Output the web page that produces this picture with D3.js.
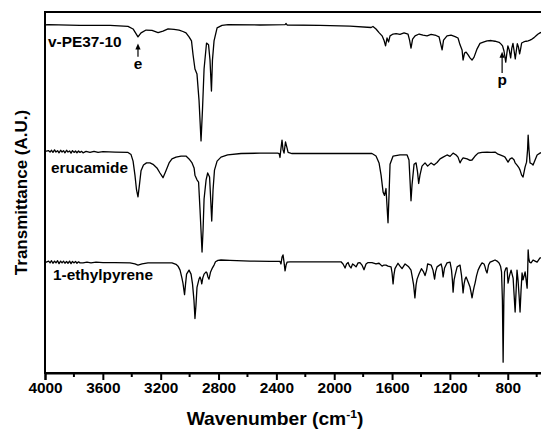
<!DOCTYPE html>
<html>
<head>
<meta charset="utf-8">
<script src="https://cdn.jsdelivr.net/npm/d3@7"></script>
<style>
  body { margin: 0; background: #fff; }
  text { font-family: "Liberation Sans", Arial, sans-serif; font-weight: bold; fill: #000; }
</style>
</head>
<body>
<svg id="myChart" width="541" height="430"></svg>
<script>
// Spectra: [wavenumber (cm-1), transmittance (A.U., offset)]
const vpeData = [
  [4000, 96.4], [3979, 96.5], [3758, 96.3], [3550, 96.3], [3426, 96.0], [3391, 95.3], [3357, 93.1],
  [3336, 94.2], [3301, 95.0], [3260, 94.9], [3218, 94.3], [3184, 94.7], [3149, 95.3], [3108, 95.2],
  [3073, 95.0], [3046, 94.6], [3025, 94.2], [3004, 93.1], [2987, 92.0], [2976, 88.1], [2963, 84.2],
  [2949, 82.8], [2935, 75.6], [2921, 64.3], [2911, 72.9], [2900, 84.2], [2883, 91.4], [2869, 90.9],
  [2859, 86.7], [2849, 78.1], [2842, 86.7], [2831, 92.0], [2810, 95.6], [2776, 96.3], [2734, 96.5],
  [2513, 96.4], [2340, 96.5], [2333, 96.8], [2326, 96.4], [2098, 96.3], [1891, 96.1], [1745, 95.7],
  [1732, 96.0], [1711, 95.3], [1690, 94.3], [1669, 93.4], [1656, 92.2], [1645, 90.6], [1635, 92.8],
  [1624, 91.7], [1614, 93.4], [1593, 93.9], [1572, 94.0], [1545, 93.8], [1517, 94.2], [1490, 93.9],
  [1479, 92.2], [1469, 90.0], [1458, 92.5], [1441, 93.4], [1413, 93.9], [1386, 93.6], [1358, 93.4],
  [1330, 93.8], [1296, 93.5], [1275, 93.1], [1265, 91.4], [1254, 89.5], [1244, 92.2], [1220, 93.4],
  [1192, 93.6], [1164, 93.2], [1144, 92.8], [1130, 90.9], [1116, 89.5], [1109, 86.7], [1099, 88.6],
  [1088, 88.9], [1074, 88.1], [1061, 87.3], [1047, 86.7], [1033, 87.5], [1012, 89.8], [992, 91.3],
  [964, 91.7], [943, 92.0], [915, 92.1], [888, 91.9], [860, 91.6], [846, 91.1], [836, 90.6],
  [826, 89.2], [814, 86.1], [806, 88.6], [799, 90.6], [790, 89.5], [780, 87.3], [772, 90.0],
  [764, 91.3], [756, 89.2], [748, 87.0], [741, 89.2], [734, 91.2], [726, 90.3], [718, 88.4],
  [711, 89.8], [704, 91.4], [690, 91.7], [673, 91.9], [659, 92.0], [646, 92.2], [632, 92.5],
  [618, 92.9], [604, 93.4], [590, 93.9], [577, 94.2], [563, 94.5]
];

const erucamideData = [
  [4000, 61.4], [3975, 61.6], [3965, 61.2], [3955, 61.7], [3945, 61.1], [3934, 61.8], [3924, 61.2],
  [3913, 61.6], [3903, 61.0], [3892, 61.7], [3882, 61.2], [3872, 61.6], [3862, 61.0], [3851, 61.7],
  [3841, 61.2], [3830, 61.5], [3820, 60.9], [3810, 61.6], [3799, 61.1], [3789, 61.5], [3779, 61.0],
  [3768, 61.5], [3758, 61.1], [3748, 61.4], [3737, 61.0], [3716, 61.4], [3689, 61.1], [3661, 61.4],
  [3633, 61.1], [3599, 61.3], [3516, 61.2], [3426, 61.1], [3405, 60.5],
  [3391, 58.7], [3378, 54.8], [3367, 50.7], [3357, 48.8], [3347, 52.1], [3336, 56.0], [3319, 57.6],
  [3298, 58.2], [3274, 58.2], [3253, 57.8], [3226, 56.8], [3205, 55.4], [3184, 54.1], [3167, 55.7],
  [3142, 58.2], [3122, 59.3], [3094, 59.8], [3059, 60.1], [3025, 60.1], [3004, 59.3], [2983, 58.2],
  [2969, 56.8], [2963, 54.8], [2949, 53.5], [2938, 52.9], [2928, 45.2], [2914, 33.5], [2907, 39.6],
  [2900, 48.2], [2886, 53.5], [2875, 55.4], [2862, 54.3], [2854, 47.9], [2847, 42.1], [2838, 50.7],
  [2828, 56.2], [2810, 58.7], [2783, 59.8], [2737, 60.4], [2644, 60.8], [2513, 60.9], [2391, 60.9],
  [2381, 60.8], [2375, 59.7], [2368, 62.3], [2361, 64.5], [2354, 61.8], [2347, 60.9], [2337, 64.0],
  [2326, 62.3], [2319, 61.1], [2292, 60.8], [2029, 60.8], [1739, 60.8], [1711, 60.1], [1690, 58.2],
  [1676, 54.8], [1662, 50.1], [1652, 49.2], [1642, 51.1], [1628, 41.6], [1621, 49.3], [1614, 57.8],
  [1593, 60.1], [1545, 60.4], [1496, 60.4], [1483, 59.0], [1476, 53.5], [1469, 47.7], [1462, 52.1],
  [1448, 57.8], [1434, 58.2], [1424, 55.7], [1416, 52.5], [1407, 54.8], [1393, 57.3], [1372, 58.2],
  [1354, 57.3], [1330, 58.2], [1310, 57.6], [1289, 58.3], [1268, 59.3], [1247, 59.8], [1220, 60.4],
  [1199, 60.0], [1178, 60.9], [1157, 60.4], [1144, 59.8], [1130, 58.2], [1120, 59.0], [1109, 59.6],
  [1081, 59.3], [1061, 58.9], [1047, 59.0], [1026, 60.1], [1005, 60.9], [978, 61.1], [943, 61.2],
  [915, 61.1], [888, 61.2], [867, 60.6], [853, 60.4], [832, 60.1], [819, 59.8], [798, 58.4],
  [784, 59.3], [770, 59.6], [756, 59.0], [749, 58.2], [736, 57.6], [722, 56.8], [715, 56.2],
  [704, 54.8], [694, 54.3], [687, 55.7], [680, 57.1], [670, 58.4], [663, 61.8], [659, 65.9],
  [653, 61.8], [646, 58.2], [632, 57.9], [625, 57.6], [611, 59.0], [597, 60.4], [577, 60.9], [563, 61.1]
];

const ethylpyreneData = [
  [4000, 30.6], [3975, 31.0], [3965, 30.5], [3955, 31.1], [3945, 30.4], [3934, 31.0], [3924, 30.5],
  [3913, 31.1], [3903, 30.3], [3892, 31.0], [3882, 30.5], [3872, 31.0], [3862, 30.4], [3851, 30.9],
  [3841, 30.4], [3830, 31.0], [3820, 30.3], [3810, 30.9], [3799, 30.5], [3789, 30.9], [3779, 30.4],
  [3768, 30.8], [3758, 30.5], [3737, 30.5], [3710, 30.7],
  [3682, 30.5], [3647, 30.7], [3599, 30.6], [3516, 30.6], [3412, 30.5], [3378, 30.2], [3357, 29.9],
  [3329, 30.2], [3288, 30.5], [3205, 30.5], [3122, 30.5], [3094, 30.1], [3080, 29.6], [3066, 28.5],
  [3053, 26.3], [3046, 24.9], [3035, 21.7], [3028, 24.7], [3021, 27.4], [3004, 28.5], [2990, 27.4],
  [2980, 24.7], [2970, 20.2], [2963, 15.1], [2956, 18.8], [2949, 23.7], [2935, 26.0], [2928, 26.6],
  [2921, 25.8], [2916, 24.7], [2909, 26.3], [2900, 27.4], [2886, 28.0], [2880, 27.7], [2873, 26.6],
  [2866, 26.0], [2855, 28.0], [2845, 28.9], [2831, 29.9], [2821, 30.8], [2804, 31.2], [2783, 31.3],
  [2721, 31.2], [2582, 31.0], [2444, 30.9], [2375, 30.9], [2368, 30.2], [2361, 32.1], [2354, 32.7],
  [2347, 30.7], [2340, 28.3], [2333, 29.9], [2326, 30.7], [2306, 30.8], [2167, 30.8], [2029, 30.8],
  [1953, 30.8], [1939, 30.2], [1925, 29.1], [1915, 30.2], [1904, 30.6], [1894, 29.6], [1884, 29.1],
  [1873, 30.2], [1863, 29.9], [1849, 29.4], [1835, 30.5], [1822, 30.6], [1808, 29.9], [1794, 28.6],
  [1780, 30.2], [1766, 30.6], [1739, 30.6], [1711, 30.2], [1690, 30.4], [1669, 29.6], [1656, 29.9],
  [1642, 29.9], [1628, 29.6], [1607, 29.4], [1600, 27.7], [1593, 24.7], [1587, 27.2], [1580, 28.9],
  [1559, 30.4], [1545, 29.6], [1531, 28.9], [1510, 30.2], [1485, 29.4], [1469, 28.5], [1462, 27.0],
  [1451, 24.4], [1442, 20.8], [1434, 24.4], [1427, 26.0], [1413, 27.5], [1397, 28.9], [1382, 28.0],
  [1372, 27.0], [1361, 28.5], [1354, 30.2], [1330, 29.9], [1317, 28.5], [1306, 26.0], [1299, 28.0],
  [1289, 29.4], [1261, 30.2], [1254, 29.1], [1247, 26.6], [1237, 29.1], [1220, 30.5], [1199, 30.7],
  [1189, 28.5], [1183, 25.8], [1178, 22.4], [1171, 25.8], [1164, 27.1], [1150, 29.4], [1130, 29.9],
  [1120, 27.1], [1114, 24.7], [1109, 22.2], [1102, 24.7], [1095, 26.0], [1088, 26.6], [1074, 25.2],
  [1061, 23.8], [1054, 22.4], [1047, 20.8], [1040, 22.4], [1033, 23.8], [1026, 24.9], [1016, 26.9],
  [1005, 28.5], [992, 29.6], [978, 30.5], [964, 30.2], [957, 29.4], [950, 28.3], [943, 27.7],
  [933, 29.9], [922, 30.7], [905, 31.0], [888, 31.3], [874, 31.0], [860, 30.5], [850, 29.6],
  [843, 28.0], [837, 20.2], [832, 3.0], [827, 20.2], [822, 28.0], [812, 29.1], [805, 29.1],
  [798, 24.9], [787, 27.1], [777, 28.5], [763, 26.3], [756, 21.6], [749, 16.9], [742, 23.0],
  [736, 28.5], [729, 25.8], [722, 21.6], [715, 16.9], [708, 23.0], [701, 27.7], [694, 25.8],
  [687, 26.9], [680, 28.0], [673, 25.8], [666, 23.5], [662, 28.5], [659, 34.1], [655, 31.9],
  [649, 30.7], [639, 30.5], [625, 31.3], [611, 31.0], [597, 30.7], [577, 31.9], [563, 31.9]
];

const seriesNames = ['v-PE37-10', 'erucamide', '1-ethylpyrene'];
const nameLevels = [90.4, 55.3, 25.8];      // label baselines, A.U.
const majorTicks = [4000, 3600, 3200, 2800, 2400, 2000, 1600, 1200, 800];
const minorTicks = [3800, 3400, 3000, 2600, 2200, 1800, 1400, 1000, 600];

// peak markers: [wavenumber, letter, arrow tip, arrow tail, letter baseline]
const markers = [
  [3357, 'e', 91.3, 87.6, 84.2],
  [839, 'p', 89.0, 83.1, 79.8]
];

const margin = { left: 45, right: 565.6, top: 12, bottom: 373 };
const stretch = 'scale(1.1,1)'; // the picture is slightly wide

const svg = d3.select('#myChart');

const xScale = d3.scaleLinear()
  .domain([4000, 400])
  .range([margin.left, margin.right]);

const yScale = d3.scaleLinear()
  .domain([0, 100])
  .range([margin.bottom, margin.top]);

// frame
svg.append('rect')
  .attr('x', margin.left)
  .attr('y', margin.top)
  .attr('width', margin.right - margin.left)
  .attr('height', margin.bottom - margin.top)
  .attr('fill', 'none')
  .attr('stroke', '#000')
  .attr('stroke-width', 2);

// spectra
const line = d3.line()
  .x(d => xScale(d[0]))
  .y(d => yScale(d[1]));

svg.append('g')
  .attr('class', 'spectra')
  .selectAll('path')
  .data([vpeData, erucamideData, ethylpyreneData])
  .enter()
  .append('path')
    .attr('d', line)
    .attr('fill', 'none')
    .attr('stroke', '#000')
    .attr('stroke-width', 1.3)
    .attr('stroke-linejoin', 'round');

// series names
svg.selectAll('.name')
  .data(seriesNames)
  .enter()
  .append('text')
    .attr('class', 'name')
    .attr('transform', (d, i) => `translate(${[48, 51, 53][i]},${yScale(nameLevels[i])}) ${stretch}`)
    .style('font-size', '14px')
    .text(d => d);

// arrows with letters
const markerGroup = svg.selectAll('.marker')
  .data(markers)
  .enter()
  .append('g')
  .attr('class', 'marker');

markerGroup.append('line')
  .attr('x1', d => xScale(d[0]))
  .attr('x2', d => xScale(d[0]))
  .attr('y1', d => yScale(d[3]))
  .attr('y2', d => yScale(d[2]) + 4)
  .attr('stroke', '#000')
  .attr('stroke-width', 1.2);

markerGroup.append('path')
  .attr('d', d => {
    const x = xScale(d[0]), y = yScale(d[2]);
    return `M${x},${y}L${x - 2.6},${y + 6}L${x + 2.6},${y + 6}Z`;
  })
  .attr('fill', '#000');

markerGroup.append('text')
  .attr('transform', d => `translate(${xScale(d[0])},${yScale(d[4])}) ${stretch}`)
  .attr('text-anchor', 'middle')
  .style('font-size', '14px')
  .text(d => d[1]);

// x axis
const xAxis = svg.append('g')
  .attr('class', 'axis axis-x')
  .attr('transform', `translate(0,${margin.bottom})`)
  .call(d3.axisBottom(xScale)
    .tickValues(majorTicks)
    .tickFormat(d3.format('d'))
    .tickSize(7)
    .tickPadding(3));

xAxis.select('.domain').attr('stroke-width', 2);
xAxis.selectAll('.tick line').attr('stroke-width', 2);
xAxis.selectAll('.tick text')
  .attr('transform', stretch)
  .style('font-size', '14px')
  .style('font-family', '"Liberation Sans", Arial, sans-serif');

svg.append('g')
  .attr('class', 'axis minor')
  .selectAll('line')
  .data(minorTicks)
  .enter()
  .append('line')
    .attr('x1', d => xScale(d))
    .attr('x2', d => xScale(d))
    .attr('y1', margin.bottom)
    .attr('y2', margin.bottom + 4)
    .attr('stroke', '#000')
    .attr('stroke-width', 2);

// axis titles
const xTitle = svg.append('text')
  .attr('transform', `translate(275,425) ${stretch}`)
  .attr('text-anchor', 'middle')
  .style('font-size', '17.5px');
xTitle.append('tspan').text('Wavenumber (cm');
xTitle.append('tspan').attr('dy', -7).style('font-size', '11px').text('-1');
xTitle.append('tspan').attr('dy', 7).text(')');

svg.append('text')
  .attr('transform', `translate(27,${(margin.top + margin.bottom) / 2}) rotate(-90)`)
  .attr('text-anchor', 'middle')
  .style('font-size', '17px')
  .text('Transmittance (A.U.)');
</script>
</body>
</html>
